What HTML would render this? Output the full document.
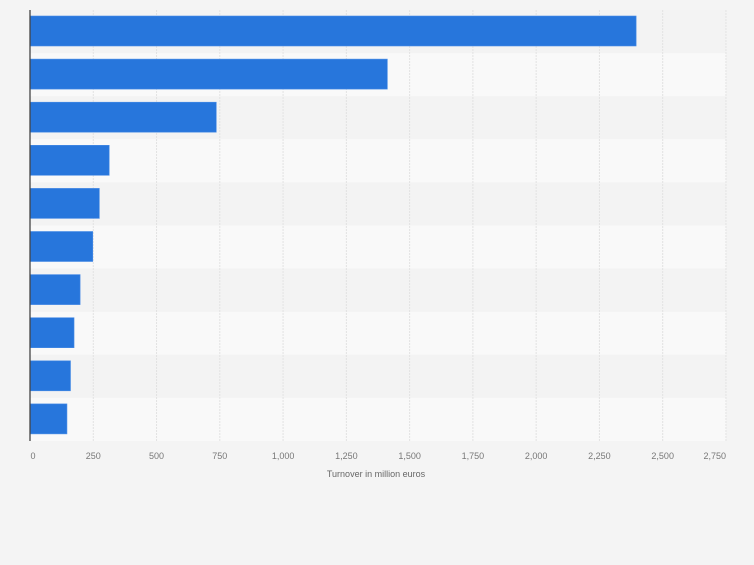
<!DOCTYPE html><html><head><style>body{margin:0;background:#f4f4f4;}</style></head><body>
<svg width="754" height="560" xmlns="http://www.w3.org/2000/svg" font-family="Liberation Sans, sans-serif">
<rect width="754" height="560" fill="#f4f4f4"/>
<script>
const svg=document.querySelector('svg');const NS='http://www.w3.org/2000/svg';
function el(t,a,txt){const e=document.createElementNS(NS,t);for(const k in a)e.setAttribute(k,a[k]);if(txt)e.textContent=txt;svg.appendChild(e);return e;}
const rh=43.1,top0=10,x0=30,s=63.27/250;
for(let i=0;i<10;i++){el('rect',{x:30,y:top0+i*rh,width:696,height:rh,fill:i%2?'#f9f9f9':'#f3f3f3'});}
const labels=['0','250','500','750','1,000','1,250','1,500','1,750','2,000','2,250','2,500','2,750'];
for(let k=0;k<12;k++){const x=x0+k*63.27;if(k>0)el('line',{x1:x,x2:x,y1:10,y2:441,stroke:'#e2e2e2','stroke-dasharray':'2,1'});
el('text',{x:k==0?33:(k==11?726:x),y:459,'font-size':9,fill:'#777','text-anchor':k==11?'end':'middle'},labels[k]);}
const vals=[2395,1412,736,313,274,248,198,174,160,146];
vals.forEach((v,i)=>el('rect',{x:30,y:top0+i*rh+6,width:v*s,height:30,fill:'#2776dc',stroke:'#4a8de6','stroke-width':0.6}));
el('line',{x1:30,x2:30,y1:10,y2:441,stroke:'#444','stroke-width':1.3});
el('text',{x:376,y:477,'font-size':9,fill:'#666','text-anchor':'middle'},'Turnover in million euros');
</script>
</svg></body></html>
